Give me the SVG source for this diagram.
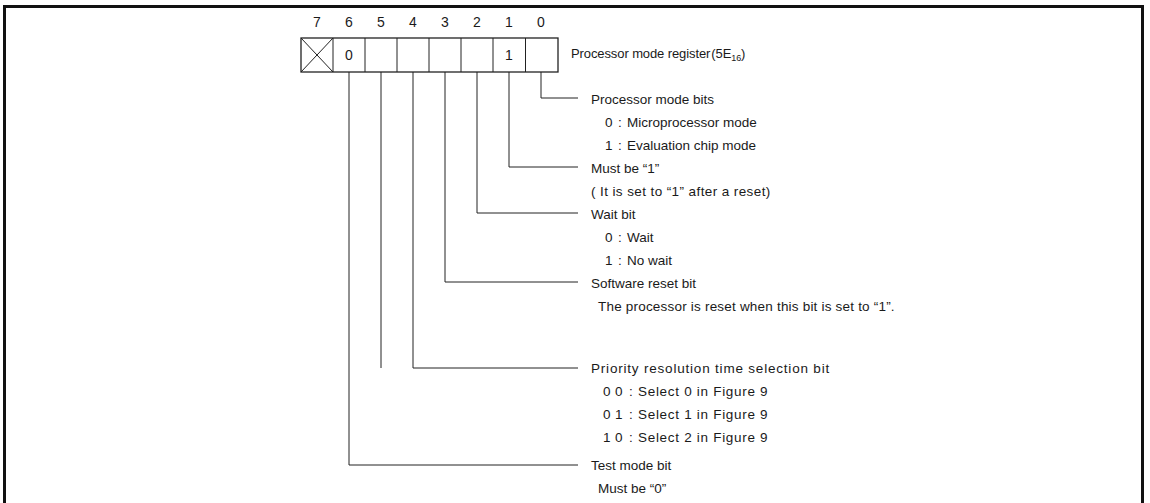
<svg xmlns="http://www.w3.org/2000/svg" width="1150" height="503" viewBox="0 0 1150 503">
<style>
text{font-family:"Liberation Sans",Arial,"Noto Sans CJK JP",sans-serif;font-size:13.5px;fill:#1a1a1a}
.num{font-size:14px}
.ttl{font-size:13px;letter-spacing:-0.1px}
.w1{letter-spacing:0.8px}
.w2{letter-spacing:0.7px}
.w3{letter-spacing:0.4px}
.w4{letter-spacing:0.2px}
.ln{fill:none;stroke:#222;stroke-width:1}
.cell{fill:#fff;stroke:#222;stroke-width:1.3}
.frame{fill:none;stroke:#111;stroke-width:3}
</style>
<rect width="1150" height="503" fill="#fff"/>
<path class="frame" d="M4.5,510 V6.5 H1142.5 V510"/>
<g id="register">
<rect class="cell" x="301" y="38" width="257" height="34"/>
<path class="ln" d="M333,38V72M365,38V72M397,38V72M429,38V72M461,38V72M493,38V72M525.5,38V72M301,38L333,72M333,38L301,72"/>
<g text-anchor="middle">
<text class="num" x="317" y="27">7</text><text class="num" x="349" y="27">6</text><text class="num" x="381" y="27">5</text><text class="num" x="413" y="27">4</text><text class="num" x="445" y="27">3</text><text class="num" x="477" y="27">2</text><text class="num" x="509" y="27">1</text><text class="num" x="541" y="27">0</text>
<text class="num" x="349" y="60">0</text><text class="num" x="509" y="60">1</text>
</g>
<text class="ttl" x="571" y="58">Processor mode register<tspan dx="1">(5E</tspan><tspan font-size="9" dy="3">16</tspan><tspan dy="-3">)</tspan></text>
</g>
<g id="connectors">
<path class="ln" d="M541,72V98H578"/>
<path class="ln" d="M509,72V167H578"/>
<path class="ln" d="M477,72V213H578"/>
<path class="ln" d="M445,72V282H578"/>
<path class="ln" d="M413,72V368H578"/>
<path class="ln" d="M381,72V368"/>
<path class="ln" d="M349,72V465H578"/>
</g>
<g id="bit0">
<text x="591" y="104">Processor mode bits</text>
<text y="127"><tspan x="605">0</tspan><tspan x="618">:</tspan><tspan x="627">Microprocessor mode</tspan></text>
<text y="150"><tspan x="605">1</tspan><tspan x="618">:</tspan><tspan x="627">Evaluation chip mode</tspan></text>
</g>
<g id="bit1">
<text x="591" y="173">Must be “1”</text>
<text class="w3" x="591" y="196">(<tspan x="600">It is set to “1” after a reset)</tspan></text>
</g>
<g id="bit2">
<text x="591" y="219">Wait bit</text>
<text y="242"><tspan x="605">0</tspan><tspan x="618">:</tspan><tspan x="627">Wait</tspan></text>
<text y="265"><tspan x="605">1</tspan><tspan x="618">:</tspan><tspan x="627">No wait</tspan></text>
</g>
<g id="bit3">
<text x="591" y="288">Software reset bit</text>
<text class="w4" x="598" y="311">The processor is reset when this bit is set to “1”.</text>
</g>
<g id="bit45">
<text class="w1" x="591" y="373">Priority resolution time selection bit</text>
<text class="w2" y="396"><tspan x="603">0</tspan><tspan x="615">0</tspan><tspan x="629">:</tspan><tspan x="638">Select 0 in Figure 9</tspan></text>
<text class="w2" y="419"><tspan x="603">0</tspan><tspan x="615">1</tspan><tspan x="629">:</tspan><tspan x="638">Select 1 in Figure 9</tspan></text>
<text class="w2" y="442"><tspan x="603">1</tspan><tspan x="615">0</tspan><tspan x="629">:</tspan><tspan x="638">Select 2 in Figure 9</tspan></text>
</g>
<g id="bit6">
<text x="591" y="470">Test mode bit</text>
<text x="598" y="493">Must be “0”</text>
</g>
</svg>
